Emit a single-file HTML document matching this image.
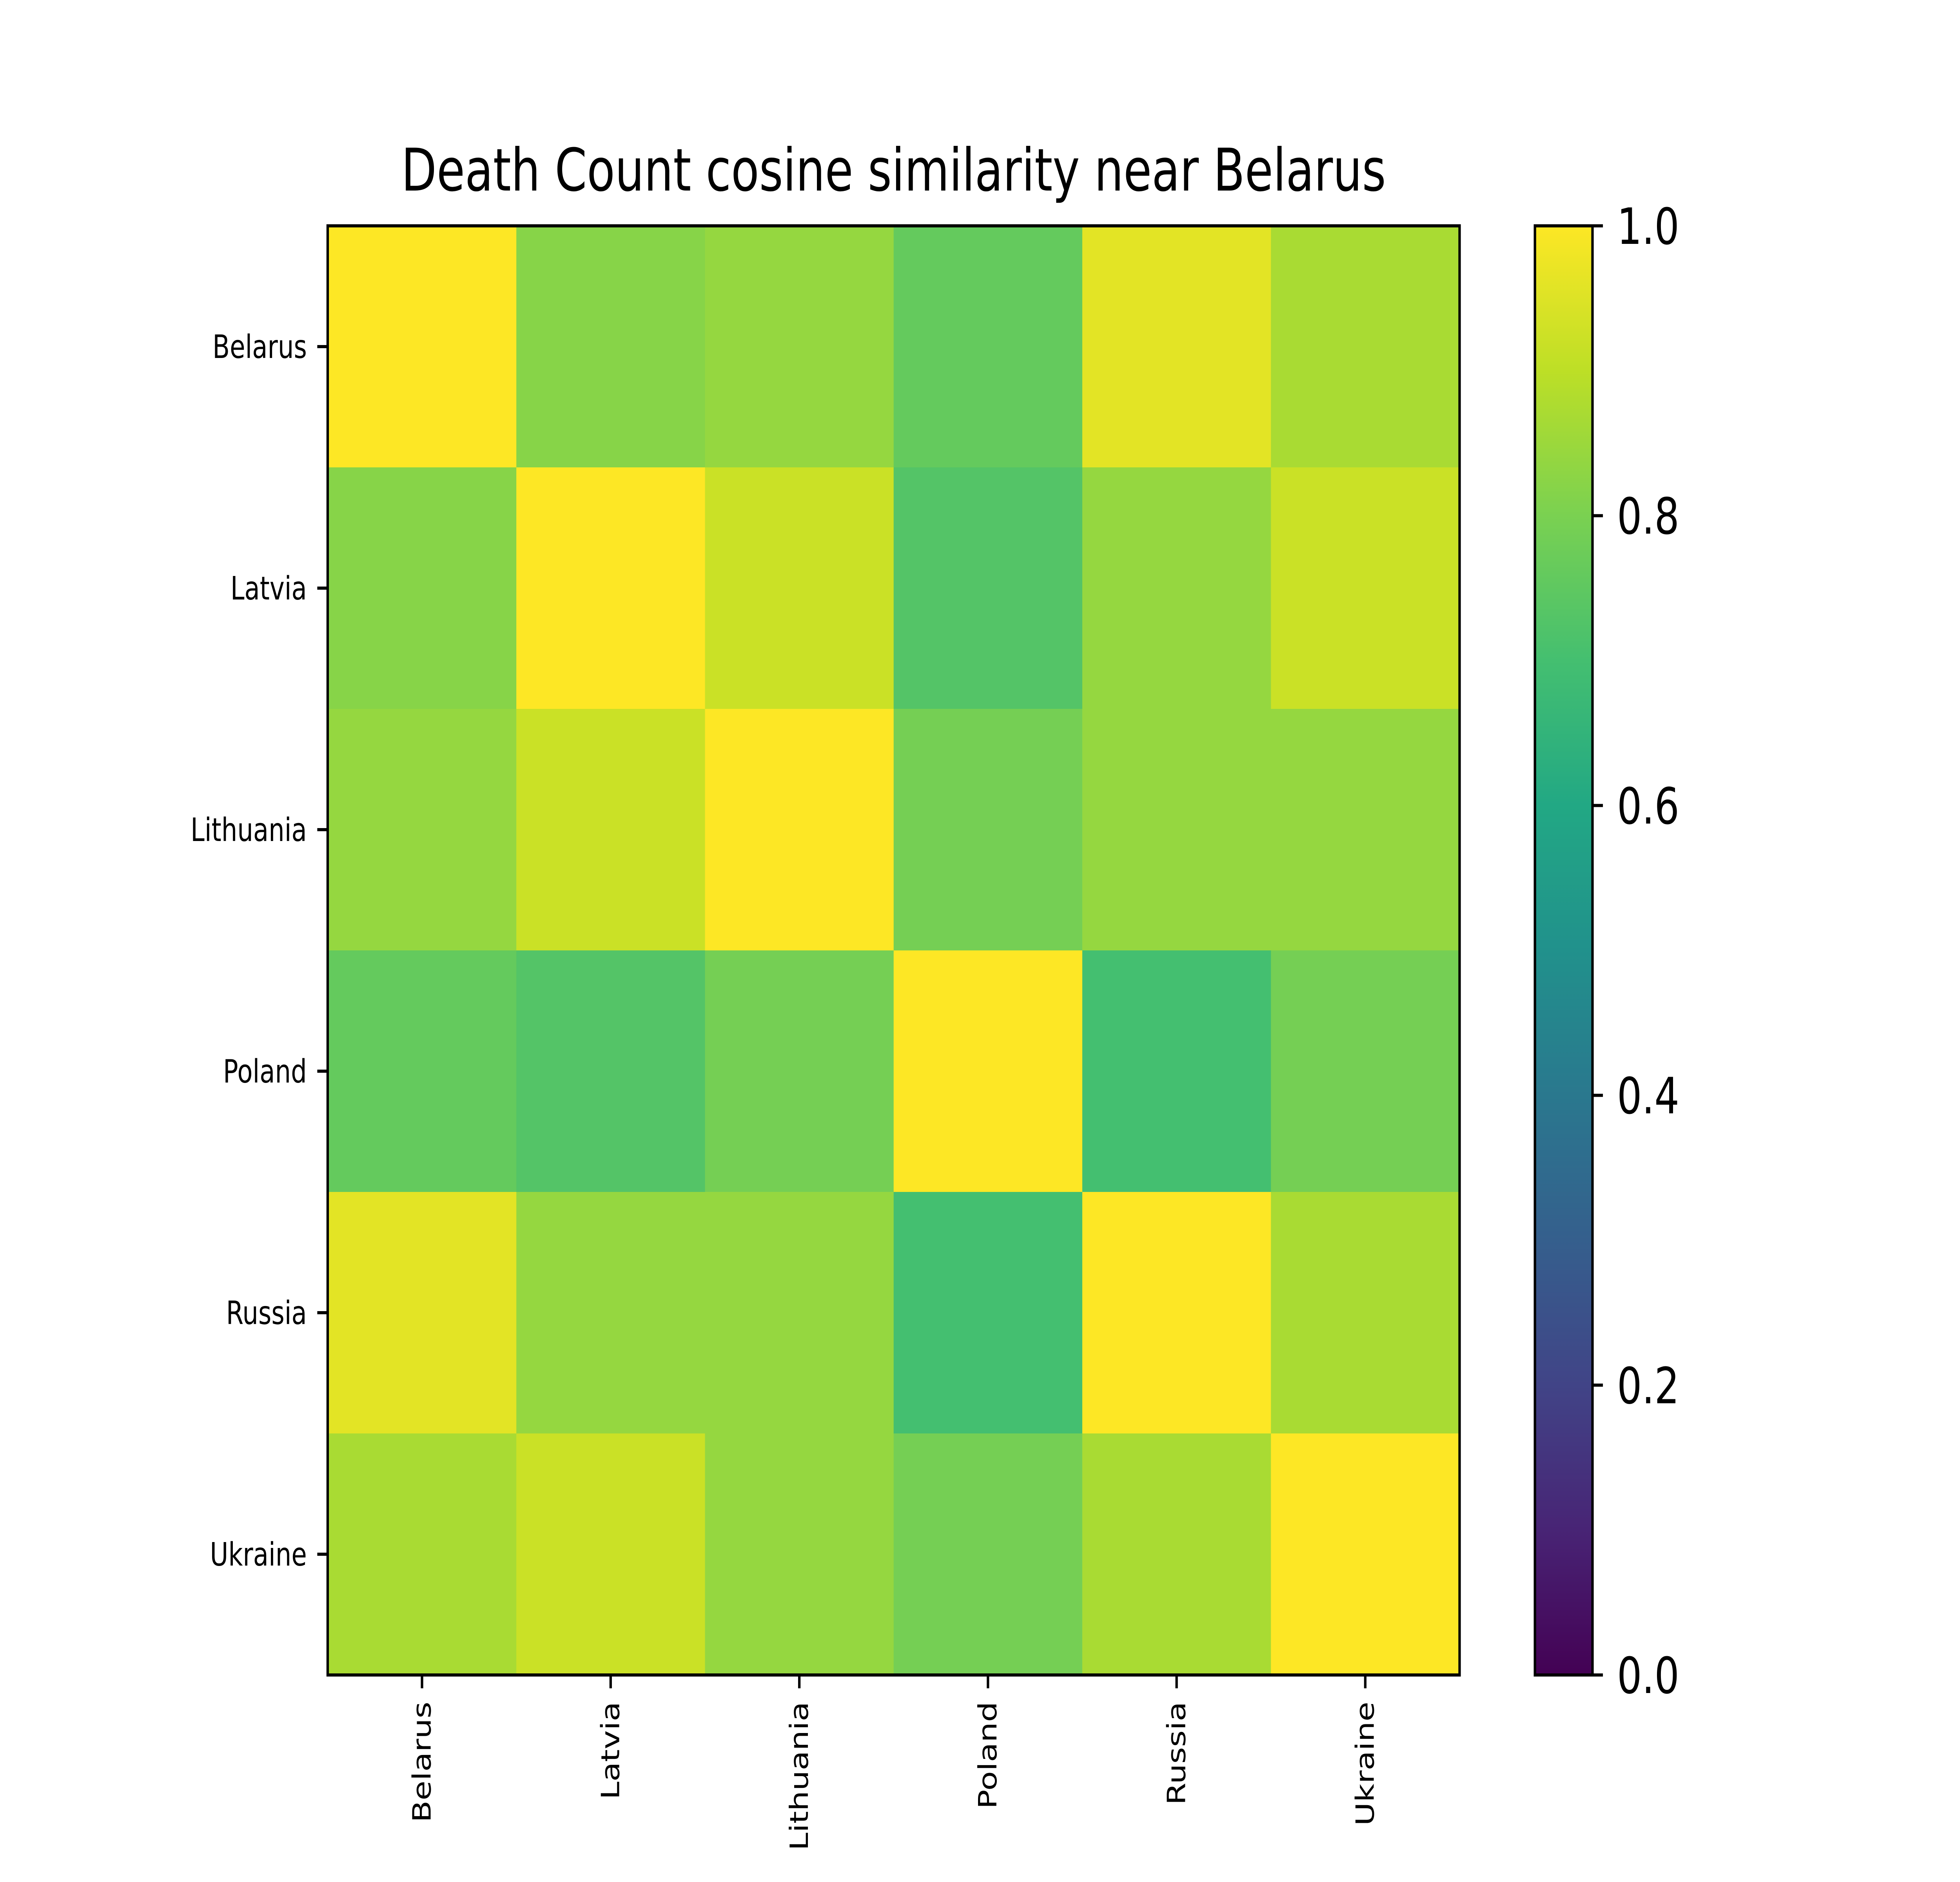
<!DOCTYPE html>
<html><head><meta charset="utf-8"><style>
html,body{margin:0;padding:0;background:#fff;overflow:hidden;width:100vw;height:100vh;}
svg{display:block;width:100vw;height:100vh;font-family:"DejaVu Sans","Liberation Sans",sans-serif;}
</style></head><body>
<svg id="chart" viewBox="0 0 6400 4800" preserveAspectRatio="none" xmlns="http://www.w3.org/2000/svg">
<rect width="6400" height="4800" fill="#fff"/>
<text x="2918" y="486" font-size="150" text-anchor="middle">Death Count cosine similarity near Belarus</text>
<g id="cells"></g>
<g id="axes"></g>
<g id="cbar"></g>
</svg>
<script>
const categories = ["Belarus","Latvia","Lithuania","Poland","Russia","Ukraine"];
const row0 = [1.00,0.82,0.84,0.76,0.96,0.87];
const row1 = [0.82,1.00,0.92,0.73,0.84,0.92];
const row2 = [0.84,0.92,1.00,0.79,0.84,0.84];
const row3 = [0.76,0.73,0.79,1.00,0.70,0.79];
const row4 = [0.96,0.84,0.84,0.70,1.00,0.87];
const row5 = [0.87,0.92,0.84,0.79,0.87,1.00];
const values = [row0,row1,row2,row3,row4,row5];
const cbarTicks = [0.0,0.2,0.4,0.6,0.8,1.0];
const cbarLabels = ["0.0","0.2","0.4","0.6","0.8","1.0"];
const vmin = 0, vmax = 1;

const NS="http://www.w3.org/2000/svg";
const VIR=["#440154","#482475","#414487","#355f8d","#2a788e","#21918c","#22a884","#44bf70","#7ad151","#bddf26","#fde725"];
function hex2rgb(h){return [1,3,5].map(i=>parseInt(h.substr(i,2),16));}
function viridis(v){
  const t=Math.max(0,Math.min(1,(v-vmin)/(vmax-vmin)))*(VIR.length-1);
  const i=Math.min(Math.floor(t),VIR.length-2), f=t-i;
  const a=hex2rgb(VIR[i]), b=hex2rgb(VIR[i+1]);
  return "rgb("+a.map((x,k)=>Math.round(x+(b[k]-x)*f)).join(",")+")";
}
function mk(tag,attrs,parent){const e=document.createElementNS(NS,tag);for(const k in attrs)e.setAttribute(k,attrs[k]);parent.appendChild(e);return e;}
const L=1070,T=576,S=3696,n=categories.length,cw=S/n;
const xScale=i=>L+i*cw, yScale=i=>T+i*cw;
const cells=document.getElementById('cells'), axes=document.getElementById('axes'), cbar=document.getElementById('cbar');
values.forEach((row,r)=>row.forEach((v,c)=>{
  const e=mk('rect',{x:xScale(c),y:yScale(r),width:cw+1,height:cw+1,fill:viridis(v)},cells);
  
  
}));
const frame=mk('rect',{x:L,y:T,width:S,height:S,fill:'none',stroke:'#000','stroke-width':8},axes);


categories.forEach((c,i)=>{
  const cx=xScale(i)+cw/2, cy=yScale(i)+cw/2;
  const tx=mk('line',{x1:cx,y1:T+S,x2:cx,y2:T+S+34,stroke:'#000','stroke-width':8},axes);
  
  
  const lx=mk('text',{x:0,y:0,'font-size':82,'text-anchor':'end','transform':`translate(${cx+28},${T+S+68}) rotate(-90)`},axes);
  lx.textContent=c;
  
  
  const ty=mk('line',{x1:L-34,y1:cy,x2:L,y2:cy,stroke:'#000','stroke-width':8},axes);
  
  
  const ly=mk('text',{x:L-68,y:cy+29,'font-size':82,'text-anchor':'end'},axes);
  ly.textContent=c;
  
  
});
const CX=5012,CW=188,CT=576,CH=3696;
const defs=mk('defs',{},cbar);
const g=mk('linearGradient',{id:'vg',x1:0,y1:1,x2:0,y2:0},defs);
VIR.forEach((col,i)=>mk('stop',{offset:(i/(VIR.length-1)),'stop-color':col},g));
const cr=mk('rect',{x:CX,y:CT,width:CW,height:CH,fill:'url(#vg)',stroke:'#000','stroke-width':8},cbar);


const cy=v=>CT+CH*(1-(v-vmin)/(vmax-vmin));
cbarTicks.forEach((v,i)=>{
  const t=mk('line',{x1:CX+CW,y1:cy(v),x2:CX+CW+34,y2:cy(v),stroke:'#000','stroke-width':8},cbar);
  
  
  const l=mk('text',{x:CX+CW+80,y:cy(v)+46,'font-size':128},cbar);
  l.textContent=cbarLabels[i];
  
  
});
</script>
</body></html>
